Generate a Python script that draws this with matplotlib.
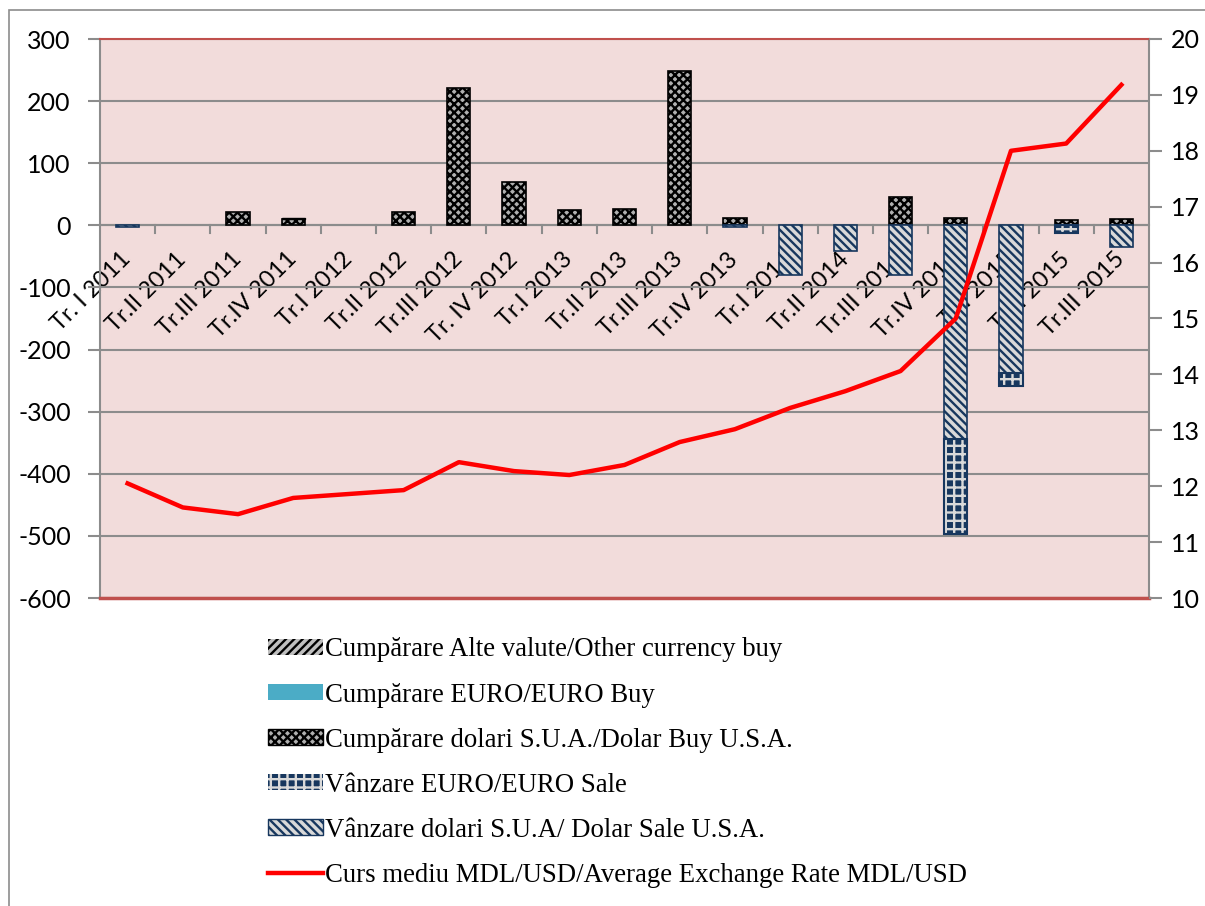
import numpy as np
import matplotlib.pyplot as plt
from matplotlib.patches import Rectangle

plt.rcParams["axes.unicode_minus"] = False
plt.rcParams["hatch.linewidth"] = 1.7

# Data
quarters = ["Tr. I 2011", "Tr.II 2011", "Tr.III 2011", "Tr.IV 2011", "Tr.I 2012",
            "Tr.II 2012", "Tr.III 2012", "Tr. IV 2012", "Tr.I 2013", "Tr.II 2013",
            "Tr.III 2013", "Tr.IV 2013", "Tr.I 2014", "Tr.II 2014", "Tr.III 2014",
            "Tr.IV 2014", "Tr.I 2015", "Tr.II 2015", "Tr.III 2015"]
other_buy = [0, 0, 0, 2, 0, 0, 0, 0, 0, 0, 0, 0, 0, 0, 0, 0, 0, 0, 0]
euro_buy = [0, 0, 0, 0, 0, 0, 0, 0, 0, 0, 0, 0, 0, 0, 0, 0, 0, 0, 0]
usd_buy = [0, 0, 22, 10, 0, 22, 221, 69, 24, 26, 248, 12, 0, 0, 46, 12, 0, 9, 10]
euro_sale = [0, 0, 0, 0, 0, 0, 0, 0, 0, 0, 0, 0, 0, 0, 0, -153, -21, -12, 0]
usd_sale = [-3, 0, 0, 0, 0, 0, 0, 0, 0, 0, 0, -3, -80, -41, -80, -344, -237, 0, -35]
rate = [12.05, 11.62, 11.50, 11.79, 11.86, 11.93, 12.43, 12.27, 12.20, 12.38,
        12.79, 13.02, 13.40, 13.70, 14.06, 15.00, 18.00, 18.13, 19.18]

labels = ["Cumpărare Alte valute/Other currency buy",
          "Cumpărare EURO/EURO Buy",
          "Cumpărare dolari S.U.A./Dolar Buy U.S.A.",
          "Vânzare EURO/EURO Sale",
          "Vânzare dolari S.U.A/ Dolar Sale U.S.A.",
          "Curs mediu MDL/USD/Average Exchange Rate MDL/USD"]

tick_font = "Lato"
navy = "#17375E"


def lws(vals, lw=1.0):
    return [lw if v else 0 for v in vals]


fig = plt.figure(figsize=(12.05, 9.06), dpi=100)
fig.patches.append(Rectangle((9 / 1205, -0.1), 1.2, 1 - 10 / 906 + 0.1,
                             transform=fig.transFigure, fill=False,
                             edgecolor="#8c8c8c", lw=1.2))
ax = fig.add_axes([100 / 1205, 1 - 598 / 906, 1049 / 1205, 559 / 906])
ax.set_facecolor("#F2DCDB")

x = np.arange(len(quarters))
w = 0.42
ax.bar(x, usd_buy, w, color="#b0b0b0", edgecolor="black", hatch="xxxx",
       lw=lws(usd_buy, 1.2), zorder=3)
ax.bar(x, other_buy, w, bottom=usd_buy, color="#bfbfbf", edgecolor="black",
       hatch="////", lw=lws(other_buy), zorder=3)
ax.bar(x, euro_buy, w, color="#4BACC6", lw=0, zorder=3)
ax.bar(x, usd_sale, w, color="#d9d9d9", edgecolor=navy, hatch="\\\\\\\\",
       lw=lws(usd_sale, 1.2), zorder=3)
es_bottom = usd_sale
ax.bar(x, euro_sale, w, bottom=es_bottom, color=navy, edgecolor="#d9d9d9",
       hatch="++", lw=0, zorder=3)
ax.bar(x, euro_sale, w, bottom=es_bottom, fill=False, edgecolor=navy,
       lw=lws(euro_sale, 1.5), zorder=4)

ax.set_xlim(-0.5, len(quarters) - 0.5)
ax.set_ylim(-600, 300)
ax.set_yticks(range(-600, 301, 100))
ax.grid(axis="y", color="#8c8c8c", lw=1.5, zorder=1)
for s in ["left", "right"]:
    ax.spines[s].set_color("#8c8c8c")
    ax.spines[s].set_linewidth(1.5)
ax.spines["top"].set_color("#C0504D")
ax.spines["top"].set_linewidth(1.5)
ax.spines["bottom"].set_position(("data", 0))
ax.spines["bottom"].set_color("#8c8c8c")
ax.spines["bottom"].set_linewidth(1.5)
ax.axhline(-600, color="#C0504D", lw=2.5, zorder=5, clip_on=False)

ax.set_xticks(np.arange(len(quarters) + 1) - 0.5)
ax.set_xticklabels([])
ax.set_xticks(x, minor=True)
ax.set_xticklabels(quarters, minor=True, rotation=45, ha="right", va="center",
                   rotation_mode="anchor", fontsize=17, family=tick_font)
ax.tick_params(axis="x", which="major", length=0)
ax.tick_params(axis="x", which="minor", length=0, pad=22)
for xb in np.arange(1, len(quarters)) - 0.5:
    ax.plot([xb, xb], [0, -12], color="#8c8c8c", lw=1.5, zorder=2)
ax.tick_params(axis="y", length=9, width=1.5, color="#8c8c8c", labelsize=18, pad=12)
for t in ax.get_yticklabels():
    t.set_family(tick_font)

ax2 = ax.twinx()
ax2.plot(x, rate, color="#FF0000", lw=3.2, zorder=6)
ax2.set_ylim(10, 20)
ax2.set_yticks(range(10, 21))
ax2.tick_params(axis="y", length=9, width=1.5, color="#8c8c8c", labelsize=18, pad=7)
for t in ax2.get_yticklabels():
    t.set_family(tick_font)
for s in ax2.spines.values():
    s.set_visible(False)

# Legend
h_other = Rectangle((0, 0), 1, 1, facecolor="#bfbfbf", edgecolor="black", hatch="////", lw=0)
h_ebuy = Rectangle((0, 0), 1, 1, facecolor="#4BACC6", lw=0)
h_ubuy = Rectangle((0, 0), 1, 1, facecolor="#b0b0b0", edgecolor="black", hatch="xxxx", lw=1)
h_esale = Rectangle((0, 0), 1, 1, facecolor=navy, edgecolor="#d9d9d9", hatch="++", lw=0)
h_usale = Rectangle((0, 0), 1, 1, facecolor="#d9d9d9", edgecolor=navy, hatch="\\\\\\\\", lw=1)
h_line = plt.Line2D([0], [0], color="#FF0000", lw=3.2)
fig.legend([h_other, h_ebuy, h_ubuy, h_esale, h_usale, h_line], labels,
           loc="upper left", bbox_to_anchor=(255 / 1205, 1 - 624 / 906),
           frameon=False, prop={"family": "Liberation Serif", "size": 19.3},
           handlelength=2.05, handleheight=0.55, handletextpad=0.08,
           labelspacing=0.75, borderpad=0)

fig.savefig("out.png", dpi=100)
